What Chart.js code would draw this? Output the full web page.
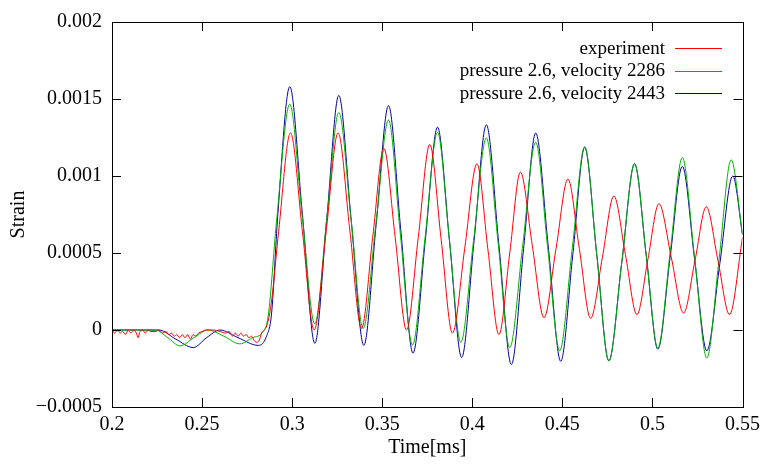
<!DOCTYPE html>
<html>
<head>
<meta charset="utf-8">
<script src="https://cdn.jsdelivr.net/npm/chart.js@4/dist/chart.umd.min.js"></script>
<style>
  body { margin: 0; background: #fff; }
  canvas { display: block; }
</style>
</head>
<body>
<canvas id="grafico" width="766" height="464"></canvas>
<script>
// series labels
const seriesNames = ['experiment', 'pressure 2.6, velocity 2286', 'pressure 2.6, velocity 2443'];

// tick labels
const xTicks = [0.2, 0.25, 0.3, 0.35, 0.4, 0.45, 0.5, 0.55];
const xTickLabels = ['0.2', '0.25', '0.3', '0.35', '0.4', '0.45', '0.5', '0.55'];
const yTicks = [-0.0005, 0, 0.0005, 0.001, 0.0015, 0.002];
const yTickLabels = ['\u22120.0005', '0', '0.0005', '0.001', '0.0015', '0.002'];

// [time ms, strain]
const experiment = [
  [0.2000, 0], [0.2015, -0.00002], [0.2030, 0], [0.2045, -0.00002], [0.2060, -0.00001],
  [0.2075, -0.00003], [0.2090, 0], [0.2105, -0.00002], [0.2120, 0], [0.2135, -0.00002],
  [0.2145, -0.00005], [0.2155, -0.00001], [0.2170, 0], [0.2185, -0.00002], [0.2200, 0],
  [0.2215, -0.00001], [0.2240, -0.00001], [0.2260, 0], [0.2280, -0.00002], [0.2300, -0.00001],
  [0.2315, -0.00003], [0.2330, -0.00002], [0.2345, -0.00004], [0.2360, -0.00003], [0.2375, -0.00005],
  [0.2390, -0.00003], [0.2405, -0.00005], [0.2420, -0.00003], [0.2435, -0.00006], [0.2450, -0.00003],
  [0.2465, -0.00004], [0.2480, -0.00002], [0.2500, -0.00001], [0.2520, 0], [0.2560, 0],
  [0.2600, -0.00001], [0.2630, -0.00002], [0.2650, -0.00001], [0.2670, -0.00004], [0.2685, -0.00002],
  [0.2700, -0.00004], [0.2715, -0.00002], [0.2730, -0.00004], [0.2745, -0.00003], [0.2760, -0.00005],
  [0.2775, -0.00004], [0.2790, -0.00007], [0.2805, -0.00008], [0.2820, -0.00006], [0.2830, -0.00002],
  [0.2845, 0], [0.2860, 0.00003], [0.2885, 0.00018], [0.2925, 0.00064], [0.2991, 0.00128],
  [0.3057, 0.00064], [0.3122, 0], [0.3189, 0.00064], [0.3255, 0.00128],
  [0.3320, 0.00065], [0.3385, 0.00001], [0.3447, 0.0006], [0.3509, 0.00118],
  [0.3572, 0.0006], [0.3635, 0], [0.3700, 0.0006], [0.3764, 0.001205],
  [0.3827, 0.00059], [0.3890, -0.00002], [0.3958, 0.00053], [0.4026, 0.00108],
  [0.4087, 0.00052], [0.4148, -0.00003], [0.4208, 0.0005], [0.4267, 0.001025],
  [0.4333, 0.00055], [0.4398, 0.00008], [0.4465, 0.00053], [0.4531, 0.00098],
  [0.4594, 0.00053], [0.4657, 0.000076], [0.4722, 0.00047], [0.4786, 0.00087],
  [0.4850, 0.00049], [0.4914, 0.0001], [0.4975, 0.00046], [0.5036, 0.00082],
  [0.5105, 0.00047], [0.5173, 0.00011], [0.5236, 0.00045], [0.5299, 0.0008],
  [0.5364, 0.00045], [0.5428, 0.0001], [0.5500, 0.0006]
];

const vel2286 = [
  [0.2000, 0], [0.2240, 0], [0.2310, -0.00005], [0.2377, -0.000103], [0.2455, -0.00005],
  [0.2534, 0], [0.2620, -0.00004], [0.2710, -0.00009], [0.2780, -0.00005], [0.2840, -0.00001],
  [0.2867, 0.00009], [0.2913, 0.0007], [0.2987, 0.001466],
  [0.3055, 0.00075], [0.3126, 0.00004], [0.3192, 0.00072], [0.3259, 0.001412],
  [0.3328, 0.00071], [0.3394, 0.00001], [0.3465, 0.00069], [0.3535, 0.001364],
  [0.3600, 0.00063], [0.3668, -0.0000975], [0.3737, 0.00059], [0.3807, 0.001283],
  [0.3872, 0.0006], [0.3936, -0.00008], [0.4007, 0.00058], [0.4078, 0.001247],
  [0.4143, 0.00057], [0.4208, -0.000114], [0.4280, 0.00055], [0.4352, 0.00122],
  [0.4418, 0.00054], [0.4485, -0.000135], [0.4555, 0.00053], [0.4624, 0.00119],
  [0.4691, 0.00049], [0.4758, -0.0002], [0.4830, 0.00044], [0.4901, 0.00108],
  [0.4966, 0.00048], [0.5030, -0.000119], [0.5098, 0.0005], [0.5166, 0.00112],
  [0.5234, 0.00047], [0.5302, -0.000182], [0.5370, 0.00046], [0.5437, 0.001105],
  [0.5500, 0.00062]
];

const vel2443 = [
  [0.2000, 0], [0.2260, 0], [0.2355, -0.00006], [0.2451, -0.000114], [0.2525, -0.00005],
  [0.2599, 0], [0.2700, -0.00005], [0.2812, -0.0001], [0.2858, -0.00004], [0.2886, 0.00011],
  [0.2920, 0.00074], [0.2987, 0.00158],
  [0.3057, 0.00075], [0.3126, -0.000087], [0.3192, 0.00072], [0.3259, 0.001523],
  [0.3328, 0.00071], [0.3398, -0.0001], [0.3466, 0.00068], [0.3535, 0.001457],
  [0.3603, 0.00065], [0.3671, -0.00015], [0.3739, 0.00058], [0.3807, 0.001317],
  [0.3874, 0.00057], [0.3941, -0.000178], [0.4010, 0.00058], [0.4078, 0.001332],
  [0.4148, 0.00055], [0.4217, -0.000224], [0.4285, 0.00053], [0.4352, 0.001279],
  [0.4422, 0.00054], [0.4491, -0.000203], [0.4558, 0.00049], [0.4624, 0.001186],
  [0.4691, 0.00049], [0.4758, -0.0002], [0.4830, 0.00044], [0.4901, 0.00108],
  [0.4966, 0.00048], [0.5030, -0.000125], [0.5098, 0.00047], [0.5166, 0.001063],
  [0.5234, 0.00046], [0.5302, -0.000135], [0.5374, 0.00043], [0.5446, 0.001],
  [0.5500, 0.00062]
];

const cores = ['#ff0000', '#00b000', '#0000a0'];
const fonte = '"Liberation Serif", "Times New Roman", serif';

function paraPontos(lista) {
  return lista.map(p => ({ x: p[0], y: p[1] }));
}

// box + inward ticks on all four sides, gnuplot style
const moldura = {
  id: 'moldura',
  afterDatasetsDraw(chart) {
    const { ctx, chartArea: a, scales } = chart;
    ctx.save();
    ctx.strokeStyle = '#000';
    ctx.lineWidth = 1;
    ctx.beginPath();
    xTicks.forEach(v => {
      const px = Math.round(scales.x.getPixelForValue(v)) + 0.5;
      ctx.moveTo(px, a.bottom); ctx.lineTo(px, a.bottom - 9);
      ctx.moveTo(px, a.top); ctx.lineTo(px, a.top + 9);
    });
    yTicks.forEach(v => {
      const py = Math.round(scales.y.getPixelForValue(v)) + 0.5;
      ctx.moveTo(a.left, py); ctx.lineTo(a.left + 9, py);
      ctx.moveTo(a.right, py); ctx.lineTo(a.right - 9, py);
    });
    ctx.stroke();
    ctx.strokeRect(Math.round(a.left) + 0.5, Math.round(a.top) + 0.5,
      Math.round(a.right - a.left), Math.round(a.bottom - a.top));

    // legend: text right aligned, sample line after it
    ctx.font = '19px ' + fonte;
    ctx.textAlign = 'right';
    ctx.textBaseline = 'middle';
    chart.data.datasets.forEach((ds, i) => {
      const y = 48 + i * 22.5;
      ctx.fillStyle = '#000';
      ctx.fillText(ds.label, 665, y + 1);
      ctx.strokeStyle = ds.borderColor;
      ctx.beginPath();
      ctx.moveTo(675, Math.round(y) + 0.5);
      ctx.lineTo(722, Math.round(y) + 0.5);
      ctx.stroke();
    });
    ctx.restore();
  }
};

const series = [experiment, vel2286, vel2443];

new Chart(document.getElementById('grafico'), {
  type: 'line',
  data: {
    datasets: series.map((s, i) => ({
      label: seriesNames[i],
      data: paraPontos(s),
      borderColor: cores[i],
      borderWidth: 1,
      pointRadius: 0,
      fill: false,
      cubicInterpolationMode: 'monotone'
    }))
  },
  options: {
    responsive: false,
    animation: false,
    devicePixelRatio: 1,
    layout: { padding: { top: 13, right: 23, left: 0, bottom: 0 } },
    plugins: { legend: { display: false }, tooltip: { enabled: false } },
    scales: {
      x: {
        type: 'linear',
        min: 0.2,
        max: 0.55,
        afterBuildTicks: s => { s.ticks = xTicks.map(v => ({ value: v })); },
        afterFit: s => { s.height = 57; },
        grid: { display: false, drawTicks: false },
        border: { display: false },
        ticks: {
          autoSkip: false,
          maxRotation: 0,
          padding: 6,
          color: '#000',
          font: { family: fonte, size: 20 },
          callback: (v, i) => xTickLabels[i]
        },
        title: {
          display: true,
          text: 'Time[ms]',
          color: '#000',
          font: { family: fonte, size: 20 },
          padding: { top: 0, bottom: 4 }
        }
      },
      y: {
        type: 'linear',
        min: -0.0005,
        max: 0.002,
        afterBuildTicks: s => { s.ticks = yTicks.map(v => ({ value: v })); },
        afterFit: s => { s.width = 112; },
        grid: { display: false, drawTicks: false },
        border: { display: false },
        ticks: {
          autoSkip: false,
          padding: 10,
          color: '#000',
          font: { family: fonte, size: 20 },
          callback: (v, i) => yTickLabels[i]
        },
        title: {
          display: true,
          text: 'Strain',
          color: '#000',
          font: { family: fonte, size: 20 },
          padding: { top: 7, bottom: 0 }
        }
      }
    }
  },
  plugins: [moldura]
});
</script>
</body>
</html>
